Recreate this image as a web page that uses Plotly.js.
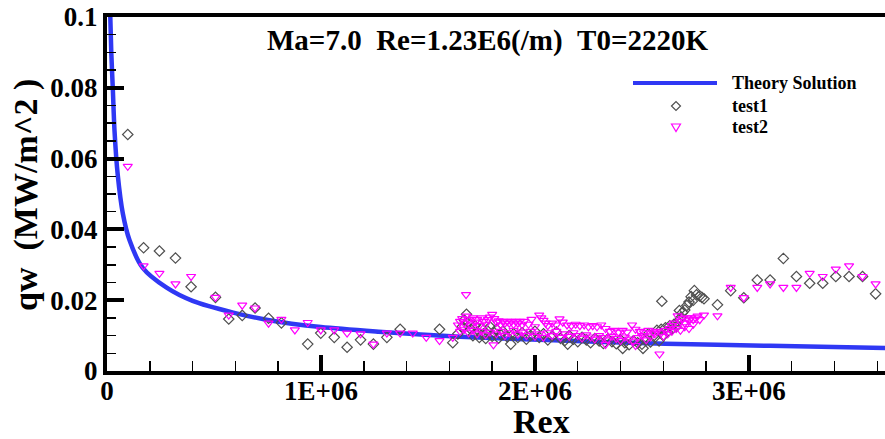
<!DOCTYPE html>
<html>
<head>
<meta charset="utf-8">
<script src="https://cdn.plot.ly/plotly-3.0.1.min.js"></script>
<style>html,body{margin:0;padding:0;background:#fff;}#chart{width:885px;height:439px;}</style>
</head>
<body>
<div id="chart"></div>
<script>
// Theory solution curve
const theoryX = [15000, 20000, 27000, 35000, 50000, 74000, 105000, 166000, 277000, 400000, 590000, 745000, 1000000, 1270000, 1650000, 2020000, 2610000, 3100000, 3640000];
const theoryY = [0.101, 0.090, 0.080, 0.068, 0.0555, 0.0445, 0.0370, 0.0292, 0.0236, 0.0198, 0.0165, 0.0145, 0.0124, 0.0111, 0.0097, 0.0088, 0.0077, 0.0071, 0.0065];

// test1 (diamonds)
const test1X = [0.097e6,0.171e6,0.245e6,0.320e6,0.393e6,0.507e6,0.569e6,0.632e6,0.692e6,0.755e6,0.815e6,0.938e6,0.999e6,1.062e6,1.122e6,1.185e6,1.245e6,1.308e6,1.370e6,1.554e6,1.616e6,
 1.64e6,1.66e6,1.67e6,1.68e6,1.69e6,1.70e6,1.71e6,1.72e6,1.73e6,1.74e6,1.75e6,1.76e6,1.77e6,1.78e6,1.79e6,1.80e6,1.81e6,1.82e6,1.83e6,1.84e6,1.85e6,1.87e6,1.887e6,1.90e6,1.92e6,1.94e6,1.96e6,1.98e6,
 2.00e6,2.02e6,2.04e6,2.06e6,2.08e6,2.10e6,2.12e6,2.14e6,2.153e6,2.16e6,2.18e6,2.20e6,2.22e6,2.24e6,2.26e6,2.28e6,2.30e6,2.32e6,2.34e6,2.36e6,2.38e6,2.40e6,2.41e6,2.42e6,2.44e6,2.46e6,2.48e6,2.50e6,2.505e6,
 2.52e6,2.53e6,2.54e6,2.56e6,2.57e6,2.58e6,2.59e6,2.593e6,2.60e6,2.61e6,2.62e6,2.63e6,2.64e6,2.65e6,2.66e6,2.67e6,2.675e6,2.68e6,2.69e6,2.70e6,2.71e6,2.72e6,2.73e6,2.74e6,2.745e6,2.755e6,2.77e6,2.78e6,2.79e6,
 2.853e6,2.915e6,2.976e6,3.039e6,3.099e6,3.161e6,3.222e6,3.284e6,3.345e6,3.406e6,3.468e6,3.531e6,3.592e6];
const test1Y = [0.0668,0.0348,0.0339,0.0319,0.0238,0.0208,0.0147,0.0157,0.0178,0.0149,0.0136,0.0076,0.0107,0.0095,0.0067,0.0088,0.0076,0.0095,0.0118,0.0118,0.0080,
 0.0105,0.0125,0.0144,0.0160,0.0138,0.0118,0.0100,0.0128,0.0110,0.0095,0.0120,0.0105,0.0092,0.0112,0.0125,0.0098,0.0108,0.0118,0.0093,0.0103,0.0112,0.0097,0.0076,0.0105,0.0095,0.0108,0.0090,0.0100,
 0.0112,0.0095,0.0105,0.0088,0.0098,0.0110,0.0092,0.0086,0.0076,0.0100,0.0090,0.0083,0.0095,0.0088,0.0080,0.0092,0.0085,0.0078,0.0090,0.0083,0.0077,0.0088,0.0064,0.0080,0.0074,0.0085,0.0080,0.0076,0.0064,
 0.0090,0.0105,0.0082,0.0095,0.0115,0.0085,0.0118,0.0197,0.0100,0.0122,0.0110,0.0128,0.0118,0.0132,0.0125,0.0140,0.0171,0.0150,0.0165,0.0172,0.0185,0.0195,0.0210,0.0200,0.0227,0.0215,0.0212,0.0208,0.0204,
 0.0187,0.0227,0.0207,0.0257,0.0257,0.0318,0.0267,0.0248,0.0248,0.0267,0.0267,0.0267,0.0218];

// test2 (down triangles)
const test2X = [0.097e6,0.171e6,0.245e6,0.320e6,0.393e6,0.507e6,0.569e6,0.632e6,0.692e6,0.755e6,0.815e6,0.878e6,0.938e6,0.999e6,1.062e6,1.122e6,1.185e6,1.245e6,1.308e6,1.370e6,1.429e6,1.492e6,1.554e6,1.616e6,
 1.64e6,1.65e6,1.66e6,1.67e6,1.678e6,1.68e6,1.69e6,1.70e6,1.71e6,1.72e6,1.73e6,1.74e6,1.75e6,1.76e6,1.77e6,1.78e6,1.79e6,1.80e6,1.81e6,1.82e6,1.83e6,1.84e6,1.85e6,1.86e6,1.87e6,1.88e6,1.89e6,1.90e6,1.91e6,1.92e6,1.93e6,1.94e6,1.95e6,1.97e6,1.984e6,
 2.00e6,2.02e6,2.03e6,2.04e6,2.05e6,2.06e6,2.08e6,2.10e6,2.115e6,2.13e6,2.15e6,2.17e6,2.19e6,2.21e6,2.23e6,2.25e6,2.27e6,2.29e6,2.31e6,2.33e6,2.35e6,2.37e6,2.39e6,2.41e6,2.43e6,2.454e6,2.47e6,2.49e6,2.51e6,2.53e6,2.55e6,2.57e6,2.59e6,2.61e6,2.63e6,2.64e6,2.65e6,2.667e6,2.68e6,2.69e6,2.70e6,2.71e6,2.72e6,2.73e6,2.74e6,2.75e6,2.76e6,2.77e6,2.79e6,
 1.65e6,1.67e6,1.69e6,1.71e6,1.73e6,1.75e6,1.77e6,1.79e6,1.806e6,1.82e6,1.84e6,1.86e6,1.88e6,1.90e6,1.92e6,1.94e6,1.96e6,1.98e6,2.00e6,2.02e6,2.04e6,2.06e6,2.08e6,2.10e6,2.12e6,2.14e6,2.16e6,2.18e6,2.20e6,2.22e6,2.24e6,2.26e6,2.28e6,2.30e6,2.32e6,2.33e6,2.34e6,2.36e6,2.38e6,2.40e6,2.42e6,2.44e6,2.46e6,2.47e6,2.48e6,2.50e6,2.52e6,2.54e6,2.56e6,2.582e6,2.60e6,2.62e6,2.64e6,2.66e6,2.68e6,2.70e6,2.72e6,2.74e6,
 2.853e6,2.915e6,2.976e6,3.039e6,3.099e6,3.161e6,3.222e6,3.284e6,3.345e6,3.406e6,3.468e6,3.531e6,3.592e6];
const test2Y = [0.0578,0.0297,0.0276,0.0246,0.0267,0.0208,0.0158,0.0186,0.0178,0.0135,0.0146,0.0116,0.0137,0.0116,0.0116,0.0107,0.0105,0.0076,0.0107,0.0107,0.0107,0.0095,0.0086,0.0095,
 0.0130,0.0140,0.0148,0.0135,0.0216,0.0155,0.0145,0.0130,0.0150,0.0138,0.0145,0.0128,0.0150,0.0140,0.0132,0.0145,0.0152,0.0160,0.0148,0.0138,0.0142,0.0130,0.0140,0.0135,0.0140,0.0135,0.0140,0.0132,0.0140,0.0135,0.0140,0.0130,0.0140,0.0132,0.0146,
 0.0125,0.0158,0.0150,0.0143,0.0135,0.0128,0.0135,0.0130,0.0147,0.0138,0.0130,0.0128,0.0132,0.0128,0.0130,0.0125,0.0128,0.0125,0.0130,0.0120,0.0112,0.0115,0.0110,0.0115,0.0110,0.0130,0.0118,0.0112,0.0108,0.0115,0.0110,0.0112,0.0108,0.0115,0.0120,0.0128,0.0135,0.0156,0.0140,0.0148,0.0135,0.0150,0.0142,0.0150,0.0145,0.0150,0.0155,0.0145,0.0158,
 0.0112,0.0118,0.0108,0.0115,0.0105,0.0112,0.0102,0.0110,0.0074,0.0105,0.0112,0.0100,0.0108,0.0115,0.0104,0.0110,0.0100,0.0112,0.0098,0.0105,0.0095,0.0108,0.0100,0.0112,0.0095,0.0105,0.0098,0.0108,0.0100,0.0093,0.0102,0.0096,0.0090,0.0100,0.0094,0.0075,0.0088,0.0098,0.0092,0.0086,0.0096,0.0090,0.0084,0.0072,0.0094,0.0100,0.0088,0.0096,0.0105,0.0048,0.0098,0.0105,0.0112,0.0120,0.0115,0.0125,0.0120,0.0132,
 0.0156,0.0236,0.0207,0.0236,0.0246,0.0236,0.0236,0.0276,0.0267,0.0288,0.0297,0.0267,0.0246];

const xTickVals = [0, 1e6, 2e6, 3e6];
const xTickText = ['0', '1E+06', '2E+06', '3E+06'];
const yTickVals = [0, 0.02, 0.04, 0.06, 0.08, 0.1];
const yTickText = ['0', '0.02', '0.04', '0.06', '0.08', '0.1'];
const seriesNames = ['Theory Solution', 'test1', 'test2'];

const FONT = 'Liberation Serif';
const BLUE = '#2f38f4', GRAY = '#505050', MAG = '#ff00ff';

const traces = [
  {x: theoryX, y: theoryY, type: 'scatter', mode: 'lines', name: seriesNames[0],
   line: {color: BLUE, width: 4.5, shape: 'spline', smoothing: 0.8}},
  {x: test1X, y: test1Y, type: 'scatter', mode: 'markers', name: seriesNames[1],
   marker: {symbol: 'diamond-open', size: 8, color: GRAY, line: {width: 1.2, color: GRAY}}},
  {x: test2X, y: test2Y, type: 'scatter', mode: 'markers', name: seriesNames[2],
   marker: {symbol: 'triangle-down-open', size: 8, color: MAG, line: {width: 1.2, color: MAG}}}
];

// Legend built by hand (paper coordinates)
const W = 778, H = 354, L = 107, T = 17;
const px = v => (v - L) / W;
const py = v => (T + H - v) / H;
const legendRows = [83, 106, 127];
const legendText = {x: 732, sym: 676, line0: 633, line1: 717};

const shapes = [
  {type: 'line', xref: 'paper', yref: 'paper', x0: px(legendText.line0), x1: px(legendText.line1), y0: py(legendRows[0]), y1: py(legendRows[0]),
   line: {color: BLUE, width: 4}},
  {type: 'path', xref: 'paper', yref: 'paper', xsizemode: 'pixel', ysizemode: 'pixel',
   xanchor: px(legendText.sym), yanchor: py(legendRows[1]),
   path: 'M-4.5,0 L0,4.5 L4.5,0 L0,-4.5 Z', line: {color: GRAY, width: 1.2}, fillcolor: 'rgba(0,0,0,0)'},
  {type: 'path', xref: 'paper', yref: 'paper', xsizemode: 'pixel', ysizemode: 'pixel',
   xanchor: px(legendText.sym), yanchor: py(legendRows[2]),
   path: 'M-4.5,3 L4.5,3 L0,-4.5 Z', line: {color: MAG, width: 1.2}, fillcolor: 'rgba(0,0,0,0)'}
];

const annotations = [
  {text: 'Ma=7.0\u00a0\u00a0Re=1.23E6(/m)\u00a0\u00a0T0=2220K', xref: 'paper', yref: 'paper', x: px(487), y: py(40),
   xanchor: 'center', yanchor: 'middle', showarrow: false,
   font: {family: FONT, size: 29, weight: 'bold', color: '#000'}},
  {text: 'Rex', xref: 'paper', yref: 'paper', x: px(541), y: py(421),
   xanchor: 'center', yanchor: 'middle', showarrow: false, borderpad: 0,
   font: {family: FONT, size: 34, weight: 'bold', color: '#000'}},
  {text: 'qw\u00a0\u00a0(MW/m^2 )', xref: 'paper', yref: 'paper', x: px(26), y: py(195), textangle: -90,
   xanchor: 'center', yanchor: 'middle', showarrow: false,
   font: {family: FONT, size: 34, weight: 'bold', color: '#000'}}
];
seriesNames.forEach((n, i) => annotations.push({
  text: '<b>' + n + '</b>', xref: 'paper', yref: 'paper', x: px(legendText.x - 2), y: py(legendRows[i]),
  xanchor: 'left', yanchor: 'middle', showarrow: false,
  font: {family: FONT, size: 18, weight: 'bold', color: '#000'}}));

const tickFont = {family: FONT, size: 27, weight: 'bold', color: '#000'};

const layout = {
  width: 885, height: 439,
  margin: {l: L, r: 0, t: T, b: 68},
  paper_bgcolor: '#ffffff', plot_bgcolor: '#ffffff',
  font: {family: FONT, color: '#000'},
  showlegend: false,
  xaxis: {range: [0, 3.636e6], tickmode: 'array', tickvals: xTickVals, ticktext: xTickText.map(t => '<b>' + t + '</b>'),
          ticks: 'inside', ticklen: 16, tickwidth: 4, tickcolor: '#000', ticklabelstandoff: -7,
          showline: true, linewidth: 4, linecolor: '#000', mirror: true,
          showgrid: false, zeroline: false, tickfont: tickFont,
          minor: {tickmode: 'linear', tick0: 0, dtick: 2e5, ticks: 'inside', ticklen: 10, tickwidth: 1.5, tickcolor: '#000', showgrid: false}},
  yaxis: {range: [0, 0.1], tickmode: 'array', tickvals: yTickVals, ticktext: yTickText.map(t => '<b>' + t + '</b>'),
          ticks: 'inside', ticklen: 17, tickwidth: 4, tickcolor: '#000',
          showline: true, linewidth: 4, linecolor: '#000',
          showgrid: false, zeroline: false, tickfont: tickFont,
          minor: {tickmode: 'linear', tick0: 0, dtick: 0.005, ticks: 'inside', ticklen: 9, tickwidth: 1.5, tickcolor: '#000', showgrid: false}},
  shapes: shapes,
  annotations: annotations
};

Plotly.newPlot('chart', traces, layout, {displayModeBar: false, staticPlot: true});
</script>
</body>
</html>
